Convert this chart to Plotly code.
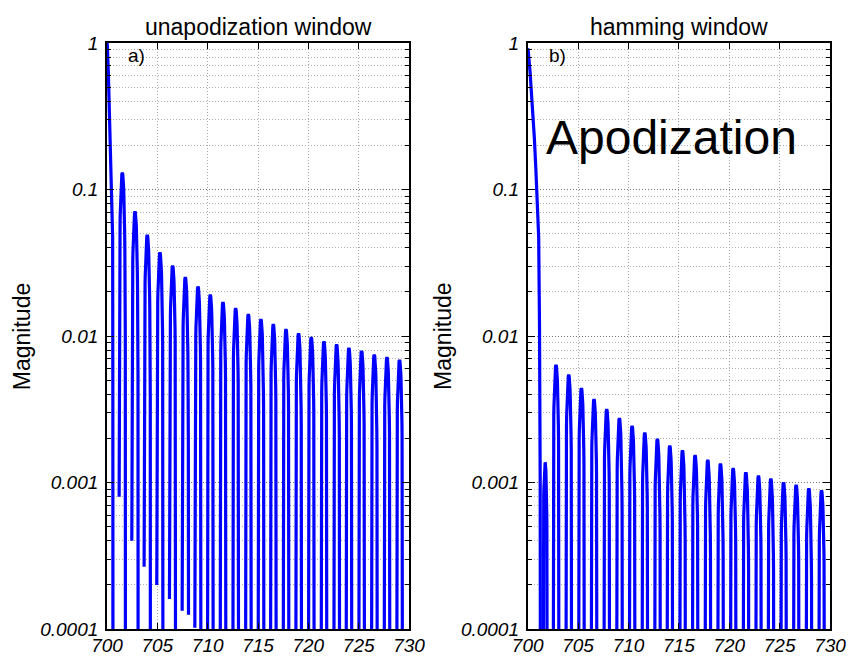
import numpy as np
import plotly.graph_objects as go

W, H = 852, 656

# ---------------- data ----------------
# panel a) unapodized: main lobe samples
a_main_x = [700.0, 700.03, 700.13, 700.23, 700.33, 700.40, 700.50, 700.56, 700.58, 700.60]
a_main_y = [1.0, 0.97, 0.64, 0.38, 0.225, 0.133, 0.079, 0.047, 0.005, 1e-6]
# side lobes: peak positions and peak magnitudes
a_peak_x = [701.52, 702.78, 704.00, 705.26, 706.52, 707.78, 709.04, 710.26, 711.52, 712.78,
            714.04, 715.29, 716.52, 717.78, 719.03, 720.29, 721.55, 722.81, 724.03, 725.29,
            726.55, 727.81, 729.06]
a_peak_y = [0.13, 0.0706, 0.0489, 0.0371, 0.0301, 0.0251, 0.0217, 0.0191, 0.0170, 0.01545,
            0.01406, 0.0130, 0.0120, 0.0111, 0.0104, 0.0098, 0.00915, 0.00873, 0.00828, 0.0079,
            0.00745, 0.00716, 0.00686]
# lowest visible value on each side of the first lobes (None = goes below the axis)
a_left_end = [0.0008, 0.0004, 0.000266, 0.0002, 0.00016, 0.000133, 0.000102]
a_right_end = [None, None, None, None, None, 0.000125]
a_half_width = [0.315] * len(a_peak_x)

# panel b) hamming: main lobe samples
b_main_x = [700.0, 700.06, 700.23, 700.46, 700.66, 700.82, 700.95, 701.09, 701.17, 701.24, 701.28]
b_main_y = [0.92, 0.877, 0.64, 0.38, 0.225, 0.133, 0.079, 0.047, 0.012, 0.001, 1e-6]
b_peak_x = [701.73, 702.81, 704.07, 705.33, 706.58, 707.84, 709.10, 710.36, 711.62, 712.87,
            714.10, 715.36, 716.61, 717.87, 719.13, 720.39, 721.65, 722.90, 724.13, 725.39,
            726.64, 727.90, 729.16]
b_peak_y = [0.00137, 0.00634, 0.00542, 0.0044, 0.0037, 0.00316, 0.00274, 0.00243, 0.00218, 0.00198,
            0.00178, 0.00165, 0.00153, 0.00142, 0.00134, 0.00125, 0.00117, 0.00111, 0.00106, 0.0010,
            0.00096, 0.00091, 0.00088]
b_half_width = [0.23] + [0.315] * (len(b_peak_x) - 1)

x_ticks = [700, 705, 710, 715, 720, 725, 730]
y_ticks = [0.0001, 0.001, 0.01, 0.1, 1]
y_ticktext = ["0.0001", "0.001", "0.01", "0.1", "1"]
titles = ["unapodization window", "hamming window"]
ylabel = "Magnitude"
panel_tags = ["a)", "b)"]
overlay_text = "Apodization"

FLOOR = 1e-6


def build_curve(main_x, main_y, px, py, hw, left_end, right_end):
    xs = list(main_x)
    ys = list(main_y)
    for i, (c, p, h) in enumerate(zip(px, py, hw)):
        le = left_end[i] if i < len(left_end) and left_end[i] else FLOOR
        re = right_end[i] if i < len(right_end) and right_end[i] else FLOOR
        t = np.linspace(0, 1, 41)
        lx = c - h + 2 * h * t
        ly = p * np.sin(np.pi * t)
        ly[0] = le
        ly[-1] = re
        xs += [None] + lx.tolist()
        ys += [None] + ly.tolist()
    return xs, ys


ax, ay = build_curve(a_main_x, a_main_y, a_peak_x, a_peak_y, a_half_width, a_left_end, a_right_end)
bx, by = build_curve(b_main_x, b_main_y, b_peak_x, b_peak_y, b_half_width, [], [])

BLUE = "rgb(0,0,255)"
FONT = "Liberation Sans, Arial, Helvetica, sans-serif"

fig = go.Figure()
fig.add_trace(go.Scatter(x=ax, y=ay, mode="lines", line=dict(color=BLUE, width=3.2),
                         connectgaps=False, xaxis="x", yaxis="y", showlegend=False, hoverinfo="skip"))
fig.add_trace(go.Scatter(x=bx, y=by, mode="lines", line=dict(color=BLUE, width=3.2),
                         connectgaps=False, xaxis="x2", yaxis="y2", showlegend=False, hoverinfo="skip"))

# pixel geometry of the two axes boxes
boxes = [(107, 409), (527.7, 830)]
top_px, bot_px = 43, 629


def fx(p):
    return p / W


def fy(p):
    return (H - p) / H


minor_vals = [m * 10.0 ** e for e in range(-4, 0) for m in range(2, 10)]

xaxis_common = dict(
    range=[700, 730], tickmode="array", tickvals=x_ticks, ticktext=[str(v) for v in x_ticks],
    ticks="inside", ticklen=6, tickwidth=1.2, tickcolor="black",
    showline=True, linecolor="black", linewidth=1.8, mirror="allticks",
    showgrid=True, gridcolor="#a8a8a8", griddash="1px,2px", gridwidth=1,
    zeroline=False, fixedrange=True, automargin=False,
    tickfont=dict(family=FONT, size=19, color="black", style="italic"),
    ticklabelstandoff=-2,
)
yaxis_common = dict(
    type="log", range=[-4, 0], tickmode="array", tickvals=y_ticks, ticktext=y_ticktext,
    ticks="inside", ticklen=7, tickwidth=1.2, tickcolor="black",
    showline=True, linecolor="black", linewidth=1.8, mirror="allticks",
    showgrid=True, gridcolor="#777777", griddash="1px,2px", gridwidth=1,
    zeroline=False, fixedrange=True, automargin=False,
    tickfont=dict(family=FONT, size=19, color="black", style="italic"),
    ticklabelstandoff=3,
    minor=dict(tickmode="array", tickvals=minor_vals, ticks="inside", ticklen=4,
               tickwidth=1, tickcolor="black", showgrid=True,
               gridcolor="#b0b0b0", griddash="1px,2px", gridwidth=1),
)

ydom = [fy(bot_px), fy(top_px)]
fig.update_layout(
    width=W, height=H,
    margin=dict(l=0, r=0, t=0, b=0, autoexpand=False),
    paper_bgcolor="white", plot_bgcolor="white",
    xaxis=dict(domain=[fx(boxes[0][0]), fx(boxes[0][1])], anchor="y", **xaxis_common),
    yaxis=dict(domain=ydom, anchor="x", **yaxis_common),
    xaxis2=dict(domain=[fx(boxes[1][0]), fx(boxes[1][1])], anchor="y2", **xaxis_common),
    yaxis2=dict(domain=ydom, anchor="x2", **yaxis_common),
    font=dict(family=FONT, color="black"),
)

ann = []
for i, (l, r) in enumerate(boxes):
    cx = (l + r) / 2
    ann.append(dict(text=titles[i], x=fx(cx), y=fy(27), xref="paper", yref="paper",
                    xanchor="center", yanchor="middle", showarrow=False,
                    font=dict(family=FONT, size=23, color="black")))
    ann.append(dict(text=ylabel, x=fx(l - 85.5), y=fy(336.7), xref="paper", yref="paper",
                    xanchor="center", yanchor="middle", showarrow=False, textangle=-90,
                    font=dict(family=FONT, size=23, color="black")))
    ann.append(dict(text=panel_tags[i], x=fx(l + 29.3), y=fy(55), xref="paper", yref="paper",
                    xanchor="center", yanchor="middle", showarrow=False,
                    font=dict(family=FONT, size=19, color="black")))
ann.append(dict(text=overlay_text, x=fx(671), y=fy(137), xref="paper", yref="paper",
                xanchor="center", yanchor="middle", showarrow=False,
                font=dict(family=FONT, size=48, color="black")))
fig.update_layout(annotations=ann)

fig.write_html("out.html")
